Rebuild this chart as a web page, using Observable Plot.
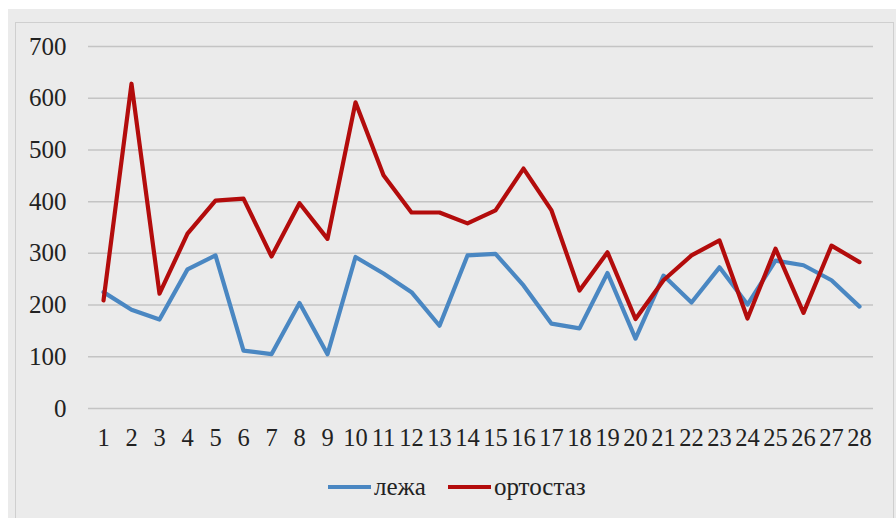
<!DOCTYPE html>
<html>
<head>
<meta charset="utf-8">
<script src="https://cdn.jsdelivr.net/npm/d3@7"></script>
<script src="https://cdn.jsdelivr.net/npm/@observablehq/plot@0.6"></script>
</head>
<body style="margin:0;background:#fff;">
<div id="wrap" style="position:relative;width:896px;height:518px;overflow:hidden;font-family:'Liberation Serif',serif;">
  <div style="position:absolute;left:8px;top:9px;width:888px;height:509px;background:#ebebeb;"></div>
  <div style="position:absolute;left:15px;top:22px;width:877px;height:520px;border:1px solid #cfcfcf;"></div>
  <div id="chart" style="position:absolute;left:0;top:0;"></div>
  <div id="legend" style="position:absolute;left:328px;top:472px;display:flex;align-items:center;font-size:25px;color:#222;line-height:30px;font-family:'Liberation Serif',serif;"></div>
</div>
<script>
const FONT = "'Liberation Serif', serif";
const categories = [1,2,3,4,5,6,7,8,9,10,11,12,13,14,15,16,17,18,19,20,21,22,23,24,25,26,27,28];
const seriesNames = ["лежа", "ортостаз"];
const seriesColors = ["#4a87c2", "#b30c0c"];
const lezha = [225,191,172,269,296,112,105,204,105,293,261,225,160,296,299,238,164,155,262,135,257,205,273,201,286,277,248,197];
const ortostaz = [209,628,222,338,402,406,294,397,328,592,451,379,379,358,383,464,383,228,302,173,248,296,325,174,309,185,315,283];
const yTicks = [0,100,200,300,400,500,600,700];

const rows = [];
categories.forEach((c, i) => rows.push({cat: String(c), value: lezha[i], series: seriesNames[0]}));
categories.forEach((c, i) => rows.push({cat: String(c), value: ortostaz[i], series: seriesNames[1]}));

const chart = Plot.plot({
  width: 896,
  height: 460,
  marginLeft: 88,
  marginRight: 23,
  marginTop: 46,
  marginBottom: 52,
  style: {background: "transparent", fontFamily: FONT, fontSize: "24px", color: "#222"},
  x: {type: "point", padding: 0.5, domain: categories.map(String), label: null},
  y: {domain: [0, 700], label: null},
  color: {domain: seriesNames, range: seriesColors},
  marks: [
    Plot.gridY(yTicks, {stroke: "#c4c4c4", strokeOpacity: 1, strokeWidth: 1.5}),
    Plot.axisY(yTicks, {tickSize: 0, tickPadding: 22, fontSize: 25, fill: "#222", label: null}),
    Plot.axisX({tickSize: 0, tickPadding: 20, fontSize: 24.5, fill: "#222", label: null}),
    Plot.line(rows, {x: "cat", y: "value", z: "series", stroke: "series", strokeWidth: 4.2, strokeLinejoin: "round", strokeLinecap: "round"})
  ]
});
document.getElementById("chart").appendChild(chart);

const legend = document.getElementById("legend");
seriesNames.forEach((name, i) => {
  const item = document.createElement("span");
  item.style.display = "inline-flex";
  item.style.alignItems = "center";
  item.style.marginRight = i === 0 ? "22px" : "0";
  const sw = document.createElement("span");
  sw.style.display = "inline-block";
  sw.style.width = "43px";
  sw.style.height = "4px";
  sw.style.marginRight = "3px";
  sw.style.background = seriesColors[i];
  const t = document.createElement("span");
  t.textContent = name;
  item.appendChild(sw);
  item.appendChild(t);
  legend.appendChild(item);
});
</script>
</body>
</html>
